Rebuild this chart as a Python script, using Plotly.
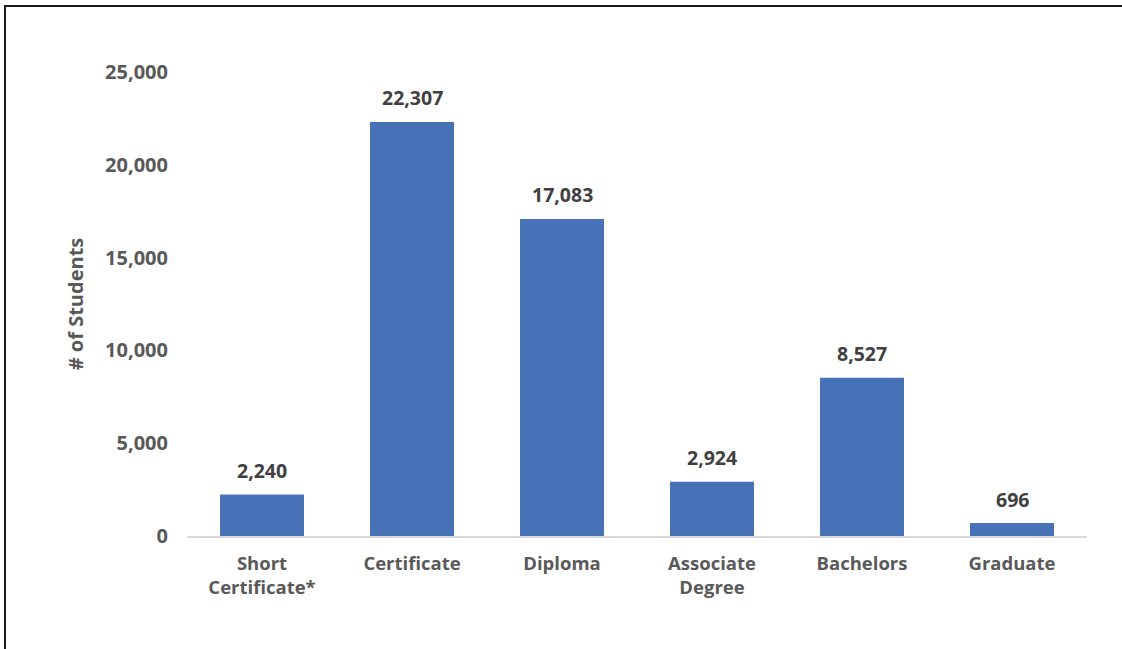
import plotly.graph_objects as go

categories = ['Short<br>Certificate*', 'Certificate', 'Diploma', 'Associate<br>Degree', 'Bachelors', 'Graduate']
students = [2240, 22307, 17083, 2924, 8527, 696]
y_ticks = [0, 5000, 10000, 15000, 20000, 25000]

font_family = 'Open Sans, Liberation Sans, Arial'
grey = '#595959'

fig = go.Figure()
fig.add_trace(go.Bar(
    x=categories, y=students,
    marker=dict(color='#4872b8', line=dict(width=0)),
))

# value labels above each bar
for cat, val in zip(categories, students):
    fig.add_annotation(x=cat, y=val, text='{:,}'.format(val), showarrow=False,
                       yanchor='middle', yshift=24,
                       font=dict(family=font_family, size=19.5, color='#404040', weight='bold'))

fig.update_layout(
    width=1122, height=649,
    margin=dict(l=187, r=35, t=72, b=113),
    paper_bgcolor='white', plot_bgcolor='white',
    bargap=0.44, showlegend=False,
    font=dict(family=font_family, color=grey),
)
fig.update_xaxes(
    showline=True, linecolor='#d9d9d9', linewidth=1.5, showgrid=False,
    ticks='', ticklabelstandoff=10,
    tickfont=dict(size=18.5, color=grey, weight='bold'),
)
fig.update_yaxes(
    range=[0, 25000], tickvals=y_ticks, tickformat=',', showgrid=False,
    zeroline=False, showline=False, ticks='outside', ticklen=14, tickcolor='white',
    tickfont=dict(size=20, color=grey, weight='bold'),
    title=dict(text='# of Students', font=dict(size=20, color=grey, weight='bold'), standoff=16),
)

# thin outer frame of the original chart (right/bottom edges fall outside the crop)
fig.add_shape(type='rect', xref='paper', yref='paper',
              x0=-0.2022, x1=1.2, y0=-0.5, y1=1.142,
              line=dict(color='#1a1a1a', width=2))

fig.write_html('out.html', config={'displayModeBar': False},
               post_script="document.body.style.margin='0';")
